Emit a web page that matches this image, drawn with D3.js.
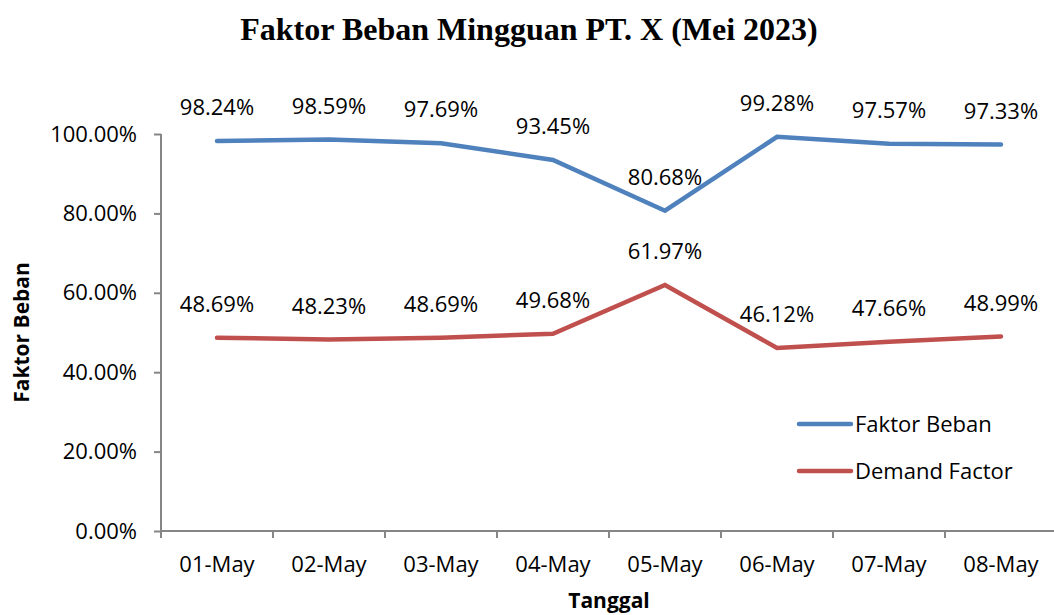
<!DOCTYPE html>
<html>
<head>
<meta charset="utf-8">
<script src="https://cdn.jsdelivr.net/npm/d3@7/dist/d3.min.js"></script>
<style>
  body { margin: 0; background: #fff; }
  svg text { font-family: "Open Sans", Lato, sans-serif; fill: #000; }
</style>
</head>
<body>
<div id="chart"></div>
<script>
var categories = ["01-May", "02-May", "03-May", "04-May", "05-May", "06-May", "07-May", "08-May"];
var faktorBeban = [98.24, 98.59, 97.69, 93.45, 80.68, 99.28, 97.57, 97.33];
var demandFactor = [48.69, 48.23, 48.69, 49.68, 61.97, 46.12, 47.66, 48.99];
var yTicks = [0, 20, 40, 60, 80, 100];

var series = [
  { name: "Faktor Beban", values: faktorBeban, color: "#4F81BD" },
  { name: "Demand Factor", values: demandFactor, color: "#C0504D" }
];

var width = 1054, height = 615;
var margin = { top: 134, right: -3, bottom: 84, left: 161 };
var innerW = width - margin.left - margin.right;
var innerH = height - margin.top - margin.bottom;
var labelSize = "22px";

var svg = d3.select("#chart").append("svg")
  .attr("width", width).attr("height", height);

svg.append("text")
  .attr("x", 529).attr("y", 40)
  .attr("text-anchor", "middle")
  .style("font-family", "'Liberation Serif', 'Times New Roman', serif")
  .style("font-weight", "bold")
  .style("font-size", "32px")
  .text("Faktor Beban Mingguan PT. X (Mei 2023)");

var g = svg.append("g").attr("transform", "translate(" + margin.left + "," + margin.top + ")");

var x = d3.scaleBand().domain(categories).range([0, innerW]);
var y = d3.scaleLinear().domain([0, 100]).range([innerH, 0]);

// y axis
var yAxis = g.append("g").call(d3.axisLeft(y).tickValues(yTicks).tickSize(7).tickPadding(17)
  .tickFormat(function (d) { return d.toFixed(2) + "%"; }));
yAxis.selectAll("line, path").attr("stroke", "#868686").attr("stroke-width", 2);
yAxis.select(".domain").attr("d", "M0," + (innerH + 7) + "V0");
yAxis.selectAll("text").style("font-size", labelSize).style("font-family", "'Open Sans', sans-serif");

// x axis
var xAxis = g.append("g").attr("transform", "translate(0," + innerH + ")")
  .call(d3.axisBottom(x).tickSize(0).tickPadding(25));
xAxis.select(".domain").attr("stroke", "#868686").attr("stroke-width", 2).attr("d", "M0,0H" + innerW);
xAxis.selectAll("text").style("font-size", labelSize).style("font-family", "'Open Sans', sans-serif");
g.append("g").attr("transform", "translate(0," + innerH + ")")
  .selectAll("line")
  .data(categories.slice(1))
  .enter().append("line")
  .attr("x1", function (d) { return x(d); })
  .attr("x2", function (d) { return x(d); })
  .attr("y1", 0).attr("y2", 7)
  .attr("stroke", "#868686").attr("stroke-width", 2);

// axis titles
svg.append("text")
  .attr("transform", "translate(29," + (margin.top + innerH / 2) + ") rotate(-90)")
  .attr("text-anchor", "middle")
  .style("font-weight", "bold").style("font-size", "21px")
  .text("Faktor Beban");

svg.append("text")
  .attr("x", margin.left + innerW / 2).attr("y", 608)
  .attr("text-anchor", "middle")
  .style("font-weight", "bold").style("font-size", "21px")
  .text("Tanggal");

var line = d3.line()
  .x(function (d, i) { return x(categories[i]) + x.bandwidth() / 2; })
  .y(function (d) { return y(d); });

series.forEach(function (s) {
  g.append("path")
    .attr("d", line(s.values))
    .attr("fill", "none")
    .attr("stroke", s.color)
    .attr("stroke-width", 4.5)
    .attr("stroke-linecap", "round")
    .attr("stroke-linejoin", "miter");

  g.selectAll(null)
    .data(s.values)
    .enter().append("text")
    .attr("x", function (d, i) { return x(categories[i]) + x.bandwidth() / 2; })
    .attr("y", function (d) { return y(d) - 26; })
    .attr("text-anchor", "middle")
    .style("font-size", labelSize)
    .text(function (d) { return d.toFixed(2) + "%"; });
});

// legend
var legend = svg.append("g").attr("transform", "translate(797,424)");
series.forEach(function (s, i) {
  var row = legend.append("g").attr("transform", "translate(0," + (i * 47) + ")");
  row.append("line")
    .attr("x1", 2).attr("x2", 54).attr("y1", 0).attr("y2", 0)
    .attr("stroke", s.color).attr("stroke-width", 4.5).attr("stroke-linecap", "round");
  row.append("text")
    .attr("x", 58).attr("y", 8)
    .style("font-size", labelSize)
    .text(s.name);
});
</script>
</body>
</html>
